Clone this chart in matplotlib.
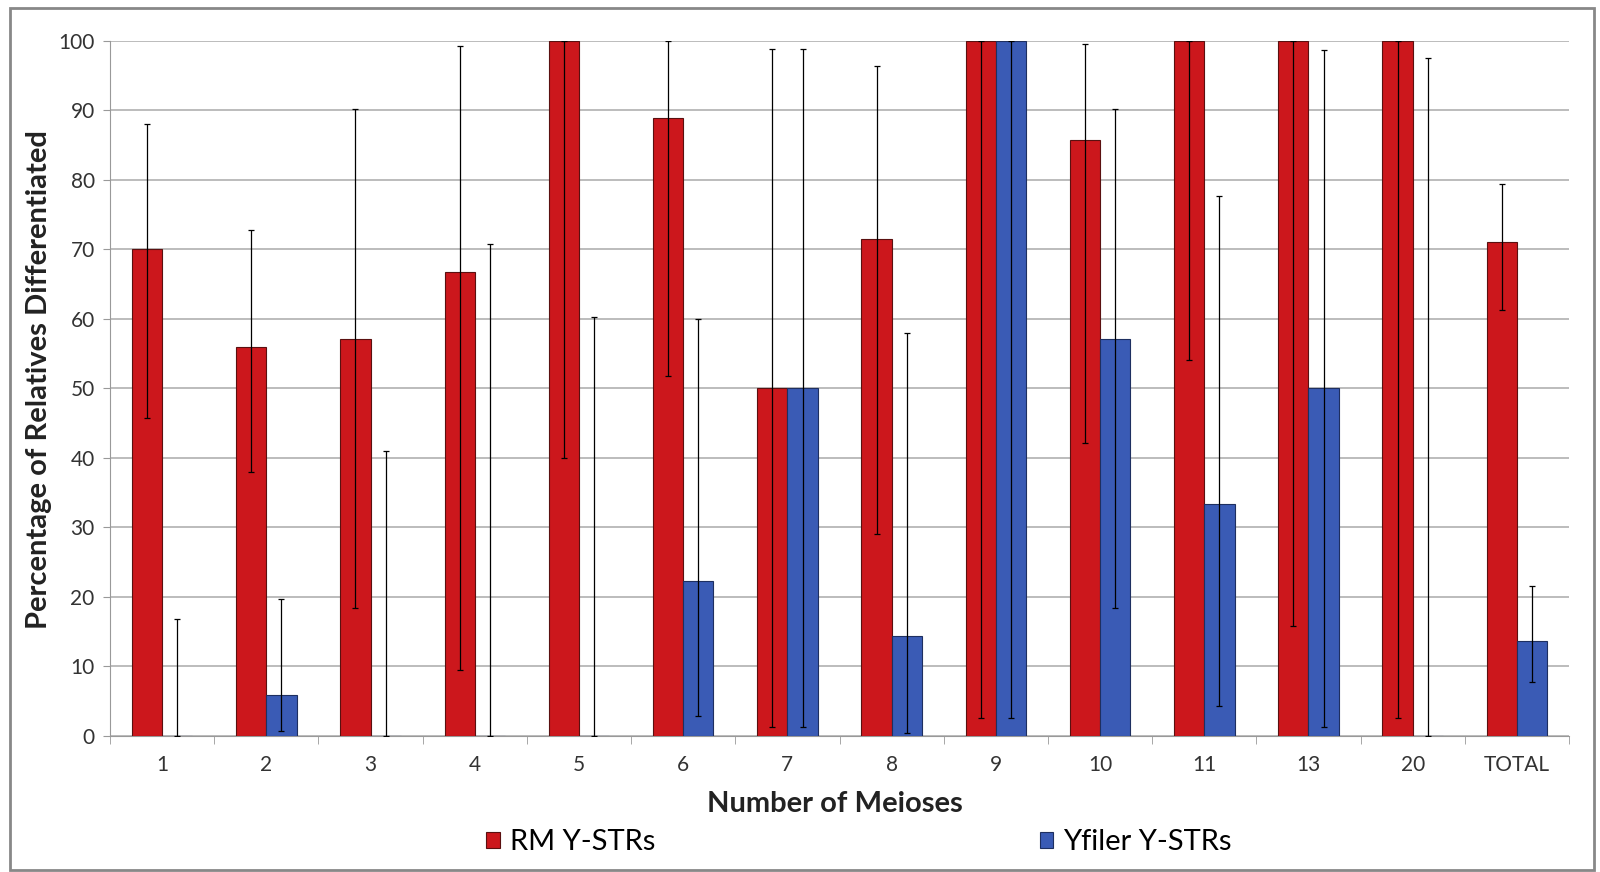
import numpy as np
import matplotlib
matplotlib.use("Agg")
import matplotlib.pyplot as plt
from matplotlib.patches import Rectangle

plt.rcParams['font.family'] = ['Lato', 'DejaVu Sans']

meioses = ['1', '2', '3', '4', '5', '6', '7', '8', '9', '10', '11', '13', '20', 'TOTAL']

rm = [70.0, 55.9, 57.1, 66.7, 100.0, 88.9, 50.0, 71.4, 100.0, 85.7, 100.0, 100.0, 100.0, 71.0]
rm_low = [45.7, 38.0, 18.4, 9.4, 40.0, 51.8, 1.3, 29.0, 2.5, 42.1, 54.0, 15.8, 2.5, 61.2]
rm_high = [88.0, 72.8, 90.2, 99.3, 100.0, 100.0, 98.8, 96.3, 100.0, 99.6, 100.0, 100.0, 100.0, 79.4]

yf = [0.0, 5.9, 0.0, 0.0, 0.0, 22.2, 50.0, 14.3, 100.0, 57.1, 33.3, 50.0, 0.0, 13.6]
yf_low = [0.0, 0.7, 0.0, 0.0, 0.0, 2.8, 1.3, 0.4, 2.5, 18.4, 4.3, 1.3, 0.0, 7.7]
yf_high = [16.8, 19.7, 40.9, 70.8, 60.2, 60.0, 98.8, 57.9, 100.0, 90.2, 77.7, 98.7, 97.5, 21.6]

red = '#CC171C'
blue = '#3A5BB5'

x = np.arange(len(meioses))
w = 0.29

fig = plt.figure(figsize=(16, 8.72), dpi=100)
ax = fig.add_axes([0.06875, 0.1563, 0.9119, 0.797])

rm_err = [np.array(rm) - np.array(rm_low), np.array(rm_high) - np.array(rm)]
yf_err = [np.array(yf) - np.array(yf_low), np.array(yf_high) - np.array(yf)]

ax.bar(x - w / 2, rm, w, color=red, edgecolor='#5a1010', linewidth=0.8,
       label='RM Y-STRs', zorder=3)
ax.bar(x + w / 2, yf, w, color=blue, edgecolor='#1e2f60', linewidth=0.8,
       label='Yfiler Y-STRs', zorder=3)
ax.errorbar(x - w / 2, rm, yerr=rm_err, fmt='none', ecolor='black',
            elinewidth=0.9, capsize=2, capthick=0.9, zorder=4)
ax.errorbar(x + w / 2, yf, yerr=yf_err, fmt='none', ecolor='black',
            elinewidth=0.9, capsize=2, capthick=0.9, zorder=4)

ax.set_xlim(-0.5, len(meioses) - 0.5)
ax.set_ylim(0, 100)
ax.set_yticks(np.arange(0, 101, 10))
ax.set_xticks(x)
ax.set_xticklabels(meioses)
ax.set_xticks(np.arange(-0.5, len(meioses), 1), minor=True)
ax.tick_params(axis='x', which='major', length=0, pad=14, labelsize=15, colors='#333333')
ax.tick_params(axis='x', which='minor', length=6, color='#999999')
ax.tick_params(axis='y', length=5, pad=6, color='#999999', labelsize=15, labelcolor='#333333')

ax.grid(axis='y', color='#b0b0b0', linewidth=1.2, zorder=0)
ax.set_axisbelow(True)
for s in ['top', 'right']:
    ax.spines[s].set_visible(False)
ax.spines['left'].set_color('#999999')
ax.spines['bottom'].set_color('#999999')

ax.set_ylabel('Percentage of Relatives Differentiated', fontsize=21,
              fontweight='bold', color='#222222')
ax.yaxis.set_label_coords(-0.04, 0.513)
ax.set_xlabel('Number of Meioses', fontsize=21, fontweight='bold',
              color='#222222', va='center')
ax.xaxis.set_label_coords(0.497, -0.098)

fig.legend(loc='center', bbox_to_anchor=(0.537, 0.034), ncol=2, frameon=False,
           fontsize=21, handlelength=0.45, handleheight=0.45, handletextpad=0.35,
           columnspacing=13.2)

fig.patches.append(Rectangle((0.00625, 0.0023), 0.99, 0.9885, transform=fig.transFigure,
                             fill=False, edgecolor='#888888', linewidth=2))

fig.savefig('out.png', dpi=100)
